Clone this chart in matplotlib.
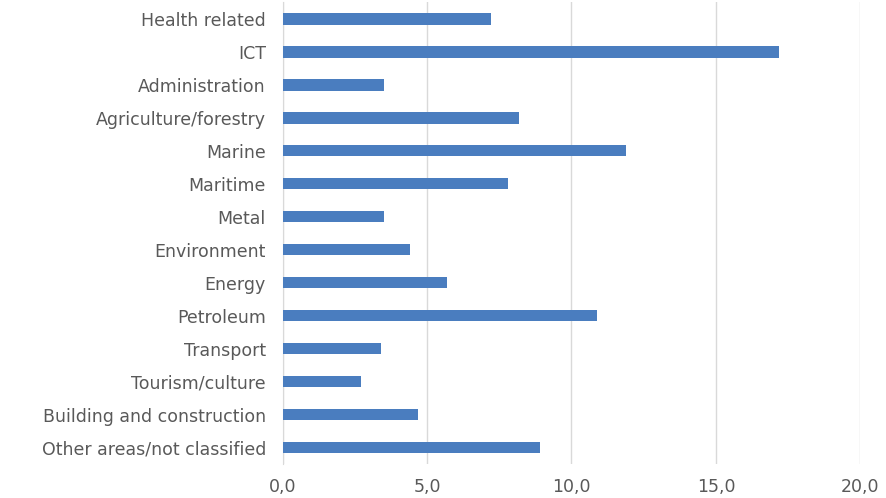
import matplotlib.pyplot as plt
from matplotlib.ticker import FuncFormatter

categories = ['Health related', 'ICT', 'Administration', 'Agriculture/forestry',
              'Marine', 'Maritime', 'Metal', 'Environment', 'Energy', 'Petroleum',
              'Transport', 'Tourism/culture', 'Building and construction',
              'Other areas/not classified']
values = [7.2, 17.2, 3.5, 8.2, 11.9, 7.8, 3.5, 4.4, 5.7, 10.9, 3.4, 2.7, 4.7, 8.9]
x_ticks = [0, 5, 10, 15, 20]

plt.rcParams['font.family'] = ['DejaVu Sans']

fig = plt.figure(figsize=(8.86, 4.98), dpi=100)
ax = fig.add_axes([0.319, 0.068, 0.652, 0.927])

pos = list(range(len(categories)))
ax.barh(pos, values, height=0.34, color='#4a7dbf', zorder=3)

ax.set_xlim(0, 20)
ax.set_ylim(len(categories) - 0.5, -0.5)
ax.set_yticks(pos)
ax.set_yticklabels(categories)
ax.set_xticks(x_ticks)
ax.xaxis.set_major_formatter(FuncFormatter(lambda v, p: f"{v:.1f}".replace('.', ',')))

ax.grid(axis='x', color='#d9d9d9', linewidth=1, zorder=0)
for s in ['top', 'right', 'bottom']:
    ax.spines[s].set_visible(False)
ax.spines['left'].set_color('#d9d9d9')
ax.tick_params(axis='both', length=0, labelsize=12.5, colors='#595959')
ax.tick_params(axis='y', pad=12)
ax.tick_params(axis='x', pad=10)

fig.savefig('out.png', dpi=100, facecolor='white')
